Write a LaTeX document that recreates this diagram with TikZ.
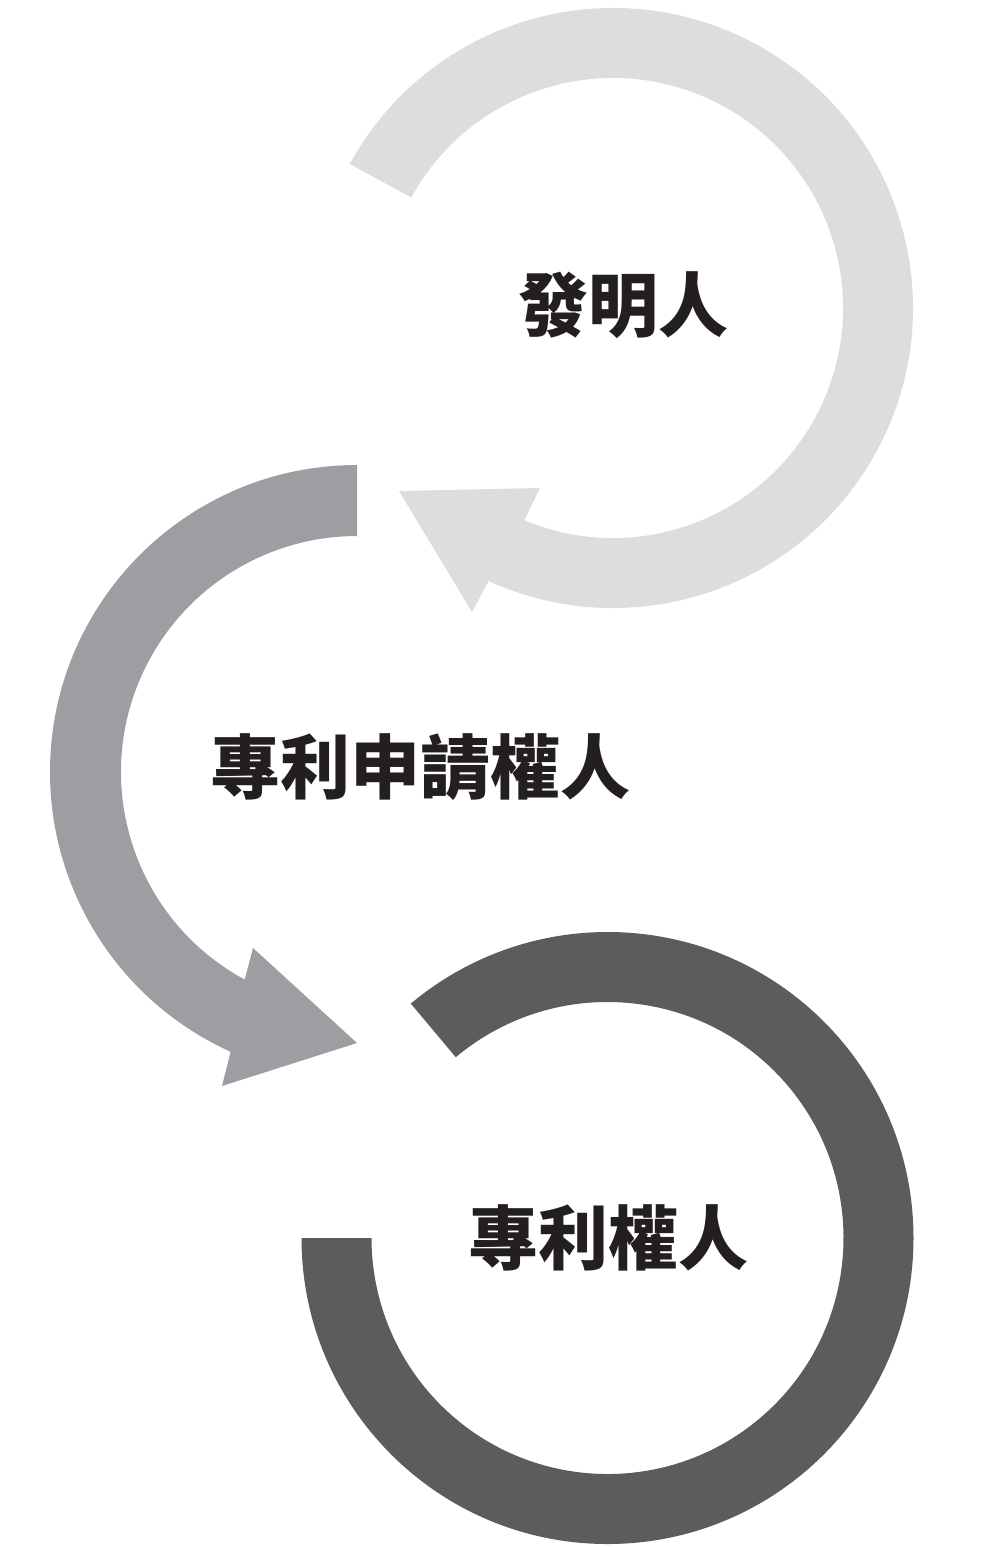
\documentclass[tikz,border=0pt]{standalone}
\usepackage{fontspec}
\usetikzlibrary{calc}
\newfontfamily\cjk{Noto Sans CJK TC}
\definecolor{lightarc}{HTML}{DCDDDE}
\definecolor{midarc}{HTML}{9D9EA2}
\definecolor{darkarc}{HTML}{5C5C5E}
\definecolor{txt}{HTML}{231F20}
\tikzset{label text/.style={text=txt, font=\cjk\bfseries\fontsize{70}{82}\selectfont, inner sep=0pt, anchor=center}}
\begin{document}
\begin{tikzpicture}[x=1pt,y=1pt]
\useasboundingbox (0,0) rectangle (1004,-1548);
% top arc (light)
\coordinate (c1) at (613,-308);
\fill[lightarc] ($(c1)+(151.3:300)$) arc[start angle=151.3,end angle=-114.5,radius=300]
  -- (472,-612) -- (399,-491) -- (540,-488)
  -- ($(c1)+(-112.7:230)$) arc[start angle=-112.7,end angle=151.3,radius=230] -- cycle;
% middle arc
\coordinate (c2) at (357,-772);
\fill[midarc] ($(c2)+(90:307)$) arc[start angle=90,end angle=245.7,radius=307]
  -- (222,-1086) -- (357,-1043) -- (253,-948)
  -- ($(c2)+(241.6:236)$) arc[start angle=241.6,end angle=90,radius=236] -- cycle;
% bottom arc
\coordinate (c3) at (607.5,-1238);
\fill[darkarc] ($(c3)+(180:306)$) arc[start angle=180,end angle=490,radius=306]
  -- ($(c3)+(490:236)$) arc[start angle=490,end angle=180,radius=236] -- cycle;
% labels
\node[label text] (l1) at (623,-305) {發明人};
\node[label text] (l2) at (420,-767) {專利申請權人};
\node[label text] (l3) at (608,-1238) {專利權人};
\end{tikzpicture}
\end{document}
